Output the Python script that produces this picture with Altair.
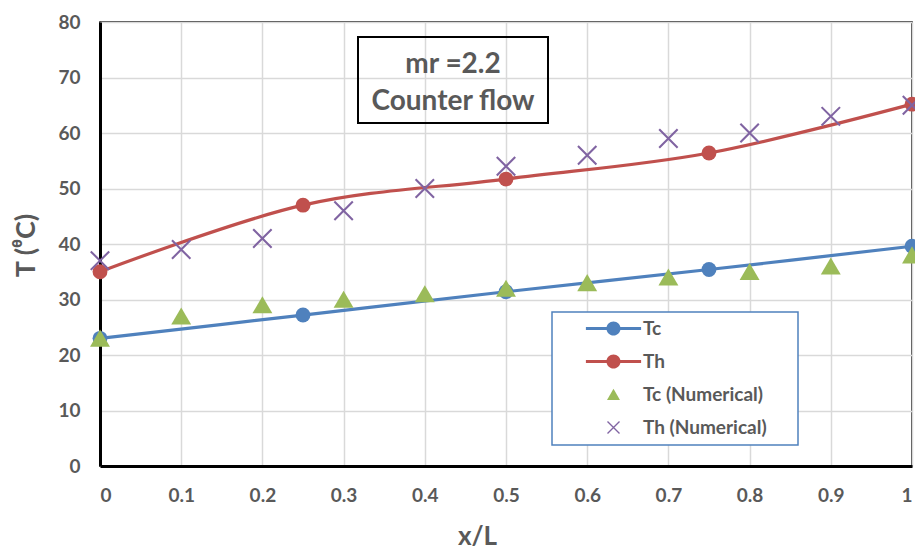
import altair as alt
import pandas as pd

# ---- data ----
x_analytic = [0.0, 0.25, 0.5, 0.75, 1.0]
tc_analytic = [23.0, 27.2, 31.4, 35.4, 39.6]
th_analytic = [35.0, 47.0, 51.7, 56.4, 65.2]

x_numerical = [0.0, 0.1, 0.2, 0.3, 0.4, 0.5, 0.6, 0.7, 0.8, 0.9, 1.0]
tc_numerical = [23, 27, 29, 30, 31, 32, 33, 34, 35, 36, 38]
th_numerical = [37, 39, 41, 46, 50, 54, 56, 59, 60, 63, 65]

series_names = ["Tc", "Th", "Tc (Numerical)", "Th (Numerical)"]
series_colors = ["#4F81BD", "#C0504D", "#9BBB59", "#8064A2"]

x_ticks = [0, 0.1, 0.2, 0.3, 0.4, 0.5, 0.6, 0.7, 0.8, 0.9, 1]
y_ticks = [0, 10, 20, 30, 40, 50, 60, 70, 80]

annotation_lines = ["mr =2.2", "Counter flow"]

# ---- tables ----
analytic = pd.concat([
    pd.DataFrame({"x": x_analytic, "T": tc_analytic, "series": "Tc"}),
    pd.DataFrame({"x": x_analytic, "T": th_analytic, "series": "Th"}),
])
numerical = pd.concat([
    pd.DataFrame({"x": x_numerical, "T": tc_numerical, "series": "Tc (Numerical)"}),
    pd.DataFrame({"x": x_numerical, "T": th_numerical, "series": "Th (Numerical)"}),
])

# ---- symbol paths ----
LINE_DOT = ("M-4.6,-0.25H4.6V0.25H-4.6Z "
            "M1.17,0A1.17,1.17 0 1,1 -1.17,0A1.17,1.17 0 1,1 1.17,0Z")
TRI = "M0,-0.95L1.08,0.9L-1.08,0.9Z"
d = 0.08
CROSS = (f"M{-1+d},{-1-d}L{1+d},{1-d}L{1-d},{1+d}L{-1-d},{-1+d}Z "
         f"M{1+d},{-1+d}L{-1+d},{1+d}L{-1-d},{1-d}L{1-d},{-1-d}Z")

FONT = "Lato"
GRAY = "#595959"

xscale = alt.Scale(domain=[0, 1], nice=False, zero=False)
yscale = alt.Scale(domain=[0, 80], nice=False)
color_scale = alt.Scale(domain=series_names, range=series_colors)
shape_scale = alt.Scale(domain=series_names, range=[LINE_DOT, LINE_DOT, TRI, CROSS])

x_axis = alt.Axis(
    values=x_ticks, format=".1~f", grid=True, gridColor="#D9D9D9", gridWidth=1.5,
    domainColor="black", domainWidth=3, ticks=False, labelPadding=20,
    labelFont=FONT, labelFontSize=19, labelFontWeight="bold", labelColor=GRAY,
    title="x/L", titleFont=FONT, titleFontSize=26, titleFontWeight="bold",
    titleColor=GRAY, titleX=377, titleY=78, titleBaseline="alphabetic",
    titleAlign="center", titleAnchor="start",
)
y_axis = alt.Axis(
    values=y_ticks, grid=True, gridColor="#D9D9D9", gridWidth=1.5,
    domainColor="black", domainWidth=3, ticks=False, labelPadding=20,
    labelFont=FONT, labelFontSize=19, labelFontWeight="bold", labelColor=GRAY,
    title="T (ᶿC)", titleFont=FONT, titleFontSize=27, titleFontWeight="bold",
    titleColor=GRAY, titleAngle=-90, titleX=-74, titleY=223,
    titleBaseline="middle", titleAlign="center", titleAnchor="start",
)

X = alt.X("x:Q", scale=xscale, axis=x_axis)
Y = alt.Y("T:Q", scale=yscale, axis=y_axis)

lines = alt.Chart(analytic).mark_line(
    interpolate="cardinal", strokeWidth=3.2
).encode(
    x=X, y=Y,
    color=alt.Color("series:N", scale=color_scale, legend=None),
    detail="series:N",
)

dots = alt.Chart(analytic).mark_point(
    shape="circle", filled=True, size=220, opacity=1
).encode(
    x=X, y=Y,
    color=alt.Color("series:N", scale=color_scale, legend=None),
)

legend = alt.Legend(
    orient="none", legendX=452, legendY=290,
    title="\u00a0", titleOrient="right", titlePadding=24, titleColor="white",
    titleFontSize=10,
    symbolSize=144, symbolOffset=45, labelOffset=20,
    padding=7, rowPadding=13, strokeColor="#4F81BD", fillColor="white",
    labelFont=FONT, labelFontSize=19, labelFontWeight=700, labelColor=GRAY,
)

num_points = alt.Chart(numerical).mark_point(
    filled=True, size=340, opacity=1
).encode(
    x=X, y=Y,
    color=alt.Color("series:N", scale=color_scale, legend=legend),
    shape=alt.Shape("series:N", scale=shape_scale, legend=legend),
)

box = alt.Chart(pd.DataFrame({"k": [0]})).mark_rect(
    fill="transparent", stroke="black", strokeWidth=2
).encode(
    x=alt.value(258), x2=alt.value(448), y=alt.value(15), y2=alt.value(101)
)
txt1 = alt.Chart(pd.DataFrame({"k": [0]})).mark_text(
    font=FONT, fontSize=28, fontWeight="bold", color=GRAY, baseline="middle", align="center"
).encode(x=alt.value(353), y=alt.value(43), text=alt.value(annotation_lines[0]))
txt2 = alt.Chart(pd.DataFrame({"k": [0]})).mark_text(
    font=FONT, fontSize=28, fontWeight="bold", color=GRAY, baseline="middle", align="center"
).encode(x=alt.value(353), y=alt.value(80), text=alt.value(annotation_lines[1]))

chart = alt.layer(lines, dots, num_points, box, txt1, txt2).resolve_legend(
    color="independent", shape="independent"
).properties(
    width=812, height=444,
    autosize=alt.AutoSizeParams(type="none"),
    padding={"left": 100, "top": 22, "right": 3, "bottom": 85},
    background="white",
).configure_view(
    stroke="black", strokeWidth=1.5
).configure_legend(
    labelFont=FONT, labelFontSize=19, labelFontWeight=700, labelColor=GRAY,
    strokeWidth=1.5,
)

chart.save("out.html", embed_options={"renderer": "svg", "actions": False})
